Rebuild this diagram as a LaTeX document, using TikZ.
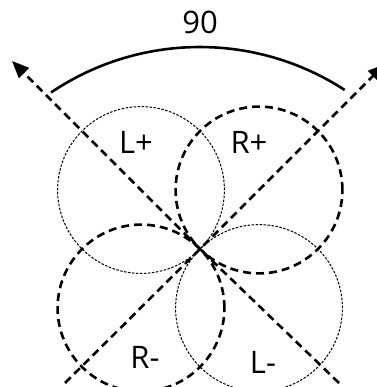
\documentclass[tikz,border=0pt]{standalone}
\usepackage{fontspec}
\setmainfont{Open Sans}
\usetikzlibrary{arrows.meta}

\begin{document}
\begin{tikzpicture}[x=1pt,y=1pt,
  every node/.style={font=\fontsize{31}{36}\selectfont,inner sep=0pt},
  axisline/.style={line width=2.6pt,dash pattern=on 8pt off 5pt},
  bigcircle/.style={line width=2.6pt,dash pattern=on 8pt off 5pt},
  smallcircle/.style={line width=1pt,dash pattern=on 2.5pt off 1.5pt},
  tipped/.style={-{Triangle[length=17pt,width=14pt]}}]
  \useasboundingbox (0,0) rectangle (376,387);
  % Crossing point and circle centres (every circle runs through the crossing)
  \coordinate (o) at (200,138);
  \coordinate (lplus) at (141,197);
  \coordinate (rplus) at (259,197);
  \coordinate (rminus) at (141,79);
  \coordinate (lminus) at (259,79);
  % Four circles
  \draw[smallcircle] (lplus) circle[radius=83.4];
  \draw[bigcircle] (rplus) circle[radius=83.4];
  \draw[bigcircle] (rminus) circle[radius=83.4];
  \draw[smallcircle] (lminus) circle[radius=83.4];
  % Two axes at right angles
  \coordinate (nw) at (12,326);
  \coordinate (ne) at (385,323);
  \coordinate (sw) at (65,4);
  \coordinate (se) at (339,4);
  \draw[axisline,tipped] (sw) -- (o) -- (ne);
  \draw[axisline,tipped] (se) -- (o) -- (nw);
  % Angle arc and its label
  \coordinate (arcstart) at (51,294.5);
  \draw[line width=2.6pt] (arcstart) arc[start angle=124,end angle=57,radius=266];
  \node (angle) at (200,365) {90};
  % Circle labels
  \node (lpluslabel) at (136,245) {L+};
  \node (rpluslabel) at (249,245) {R+};
  \node (rminuslabel) at (145,30) {R-};
  \node (lminuslabel) at (263,25) {L-};
\end{tikzpicture}
\end{document}
